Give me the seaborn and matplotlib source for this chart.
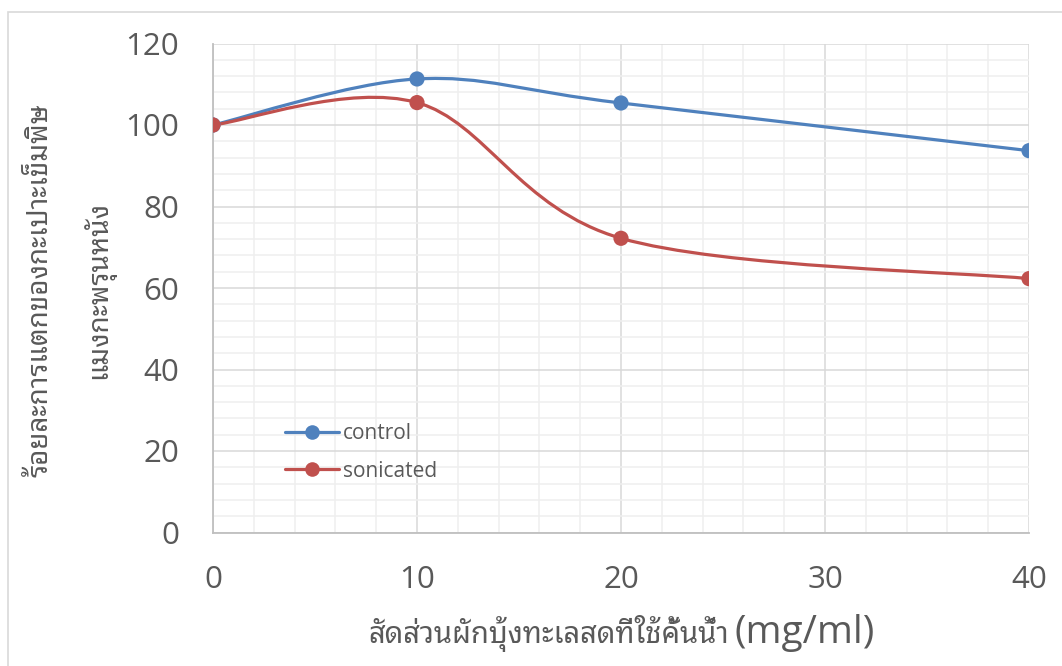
import matplotlib
matplotlib.use("Agg")
import matplotlib.pyplot as plt
import seaborn as sns
import pandas as pd
from matplotlib import font_manager
from matplotlib.path import Path
from matplotlib.patches import PathPatch, Rectangle
from matplotlib.lines import Line2D
from matplotlib.ticker import MultipleLocator

# ---- data ----
ratio = [0, 10, 20, 40]                      # mg/ml
control = [100.0, 111.3, 105.4, 93.7]
sonicated = [100.0, 105.5, 72.2, 62.3]
series_names = ["control", "sonicated"]
series_colors = ["#4F81BD", "#C0504D"]
x_ticks = [0, 10, 20, 30, 40]
y_ticks = [0, 20, 40, 60, 80, 100, 120]

y_title_line1 = "ร้อยละการแตกของกะเปาะเข็มพิษ"
y_title_line2 = "แมงกะพรุนหนัง"
x_title_thai = "สัดส่วนผักบุ้งทะเลสดที่ใช้คั้นน้ำ"
x_title_unit = "(mg/ml)"

sns.set_theme(style="white")


def thai_family():
    """Return an installed family that has Thai glyphs (or None)."""
    try:
        from fontTools.ttLib import TTFont
    except Exception:
        return None
    preferred = ["Noto Sans Thai Looped", "Noto Sans Thai", "Noto Sans Thai UI",
                 "Noto Looped Thai", "Loma", "Garuda", "Norasi", "Tlwg Typo",
                 "Noto Serif Thai"]
    found = []
    for f in font_manager.fontManager.ttflist:
        try:
            tt = TTFont(f.fname, fontNumber=0, lazy=True)
            cmap = tt.getBestCmap() or {}
            if ord("ส") in cmap and ord("ก") in cmap:
                found.append(f.name)
        except Exception:
            continue
    for name in preferred:
        if name in found:
            return name
    return found[0] if found else None


THAI = thai_family()
latin = "Open Sans"
fam_thai = ([THAI] if THAI else []) + [latin, "DejaVu Sans"]
plt.rcParams["font.family"] = [latin, "DejaVu Sans"]

W, H = 1062, 666
fig = plt.figure(figsize=(W / 100, H / 100), dpi=100)

# chart-area border
fig.patches.append(Rectangle((8 / W, -0.1), 1.2, (H - 12) / H + 0.1,
                             transform=fig.transFigure, fill=False,
                             edgecolor="#D9D9D9", linewidth=1.2))

left, right, top, bottom = 213, 1029, 43.5, 532.5
ax = fig.add_axes([left / W, 1 - bottom / H, (right - left) / W, (bottom - top) / H])

df = pd.DataFrame({
    "ratio": ratio * 2,
    "value": control + sonicated,
    "series": [series_names[0]] * len(ratio) + [series_names[1]] * len(ratio),
})


def smooth_path(xs, ys):
    """Cubic Bezier path through the points (Catmull-Rom style tangents)."""
    pts = list(zip(xs, ys))
    n = len(pts)
    verts = [pts[0]]
    codes = [Path.MOVETO]
    for i in range(n - 1):
        p0 = pts[i - 1] if i > 0 else pts[i]
        p1 = pts[i]
        p2 = pts[i + 1]
        p3 = pts[i + 2] if i + 2 < n else pts[i + 1]
        c1 = (p1[0] + (p2[0] - p0[0]) / 6, p1[1] + (p2[1] - p0[1]) / 6)
        c2 = (p2[0] - (p3[0] - p1[0]) / 6, p2[1] - (p3[1] - p1[1]) / 6)
        verts += [c1, c2, p2]
        codes += [Path.CURVE4] * 3
    return Path(verts, codes)


for name, color in zip(series_names, series_colors):
    sub = df[df["series"] == name]
    ax.add_patch(PathPatch(smooth_path(sub["ratio"].tolist(), sub["value"].tolist()),
                           facecolor="none", edgecolor=color, linewidth=2.3,
                           capstyle="round", zorder=3))

sns.scatterplot(data=df, x="ratio", y="value", hue="series",
                palette=dict(zip(series_names, series_colors)),
                s=120, edgecolor="none", linewidth=0, legend=False, ax=ax, zorder=4)

ax.set_xlim(0, 40)
ax.set_ylim(0, 120)
ax.set_xticks(x_ticks)
ax.set_yticks(y_ticks)
ax.xaxis.set_minor_locator(MultipleLocator(2))
ax.yaxis.set_minor_locator(MultipleLocator(4))
ax.grid(which="major", color="#D9D9D9", linewidth=1.1, zorder=0)
ax.grid(which="minor", color="#EFEFEF", linewidth=1.1, zorder=0)
ax.set_axisbelow(True)

for s in ["top", "right"]:
    ax.spines[s].set_visible(False)
for s in ["left", "bottom"]:
    ax.spines[s].set_color("#BFBFBF")
    ax.spines[s].set_linewidth(1.3)

ax.tick_params(axis="both", which="major", direction="out", length=8.5, width=1.2,
               color="#BFBFBF", labelcolor="#595959", labelsize=22.5)
ax.tick_params(axis="y", pad=16)
ax.tick_params(axis="x", pad=15)
ax.tick_params(which="minor", length=0)
for lab in ax.get_xticklabels() + ax.get_yticklabels():
    lab.set_family([latin, "DejaVu Sans"])

ax.set_xlabel("")
ax.set_ylabel("")

# x title: Thai words followed by the unit in a larger Latin face
fig.text(729 / W, 1 - 634 / H, x_title_thai, ha="right", va="center",
         fontsize=21, color="#595959", family=fam_thai)
fig.text(735 / W, 1 - 633 / H, x_title_unit, ha="left", va="center",
         fontsize=28, color="#595959", family=[latin, "DejaVu Sans"])

fig.text(71 / W, 1 - 290 / H, y_title_line1 + "\n" + y_title_line2,
         rotation=90, ha="center", va="center", multialignment="center",
         fontsize=20, color="#595959", family=fam_thai, linespacing=2.15)

handles = [Line2D([0], [0], color=c, linewidth=2.3, marker="o", markersize=10.5,
                  markeredgewidth=0) for c in series_colors]
leg = ax.legend(handles, series_names, loc="upper left",
                bbox_to_anchor=(285 / W, 1 - 423 / H), bbox_transform=fig.transFigure,
                frameon=False, fontsize=15, handlelength=2.6, handletextpad=0.2,
                labelspacing=0.8, borderaxespad=0, borderpad=0)
for t in leg.get_texts():
    t.set_color("#595959")

fig.savefig("out.png", dpi=100)
